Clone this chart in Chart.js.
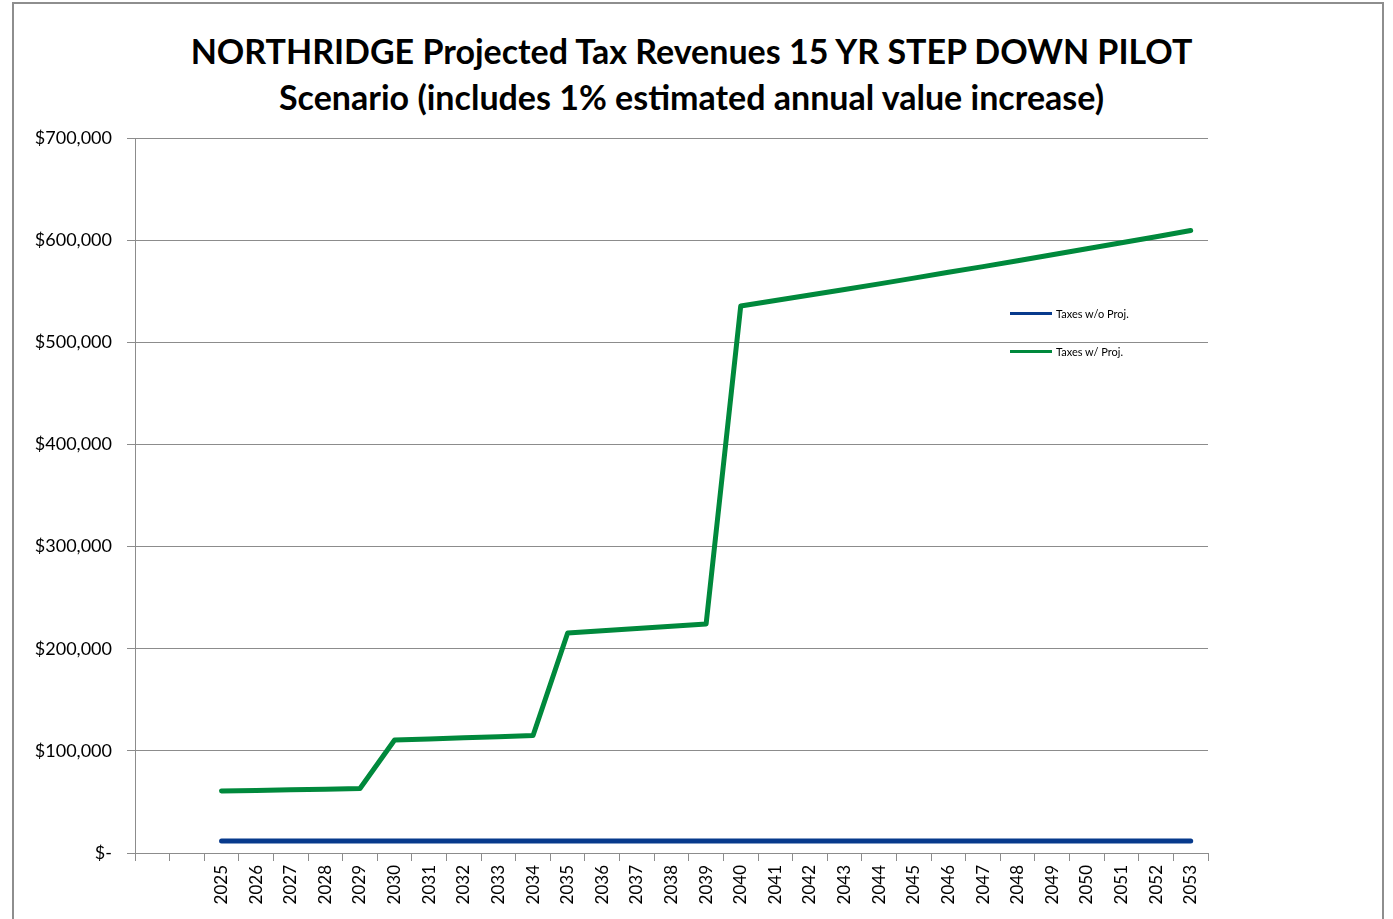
<!DOCTYPE html>
<html>
<head>
<meta charset="utf-8">
<script src="https://cdn.jsdelivr.net/npm/chart.js@4.4.1/dist/chart.umd.min.js"></script>
<style>
  html, body { margin: 0; padding: 0; background: #fff; }
  body { width: 1393px; height: 919px; position: relative; overflow: hidden; font-family: Lato, "Open Sans", sans-serif; }
  #frame { position: absolute; left: 12px; top: 2px; width: 1372px; height: 940px; border: 2px solid #8e8e8e; box-sizing: border-box; }
  #title { position: absolute; left: 0; width: 1383px; top: 28px; text-align: center; font-weight: bold; font-size: 34px; line-height: 46px; color: #000; }
  #wrap { position: absolute; left: 0; top: 0; width: 1393px; height: 919px; }
  .leg { position: absolute; left: 1010px; font-size: 11px; color: #000; display: flex; align-items: center; }
  .leg span.sw { display: inline-block; width: 42px; height: 3px; margin-right: 4px; }
</style>
</head>
<body>
<div id="frame"></div>
<div id="title">NORTHRIDGE Projected Tax Revenues 15 YR STEP DOWN PILOT<br>Scenario (includes 1% estimated annual value increase)</div>
<div id="wrap"><canvas id="chart" width="1393" height="919"></canvas></div>
<div class="leg" style="top:307px"><span class="sw" style="background:#073a8c"></span>Taxes w/o Proj.</div>
<div class="leg" style="top:345px"><span class="sw" style="background:#00893c"></span>Taxes w/ Proj.</div>
<script>
// Data (two empty leading categories, as in the spreadsheet)
const years = ['', '', '2025', '2026', '2027', '2028', '2029', '2030', '2031', '2032', '2033', '2034',
  '2035', '2036', '2037', '2038', '2039', '2040', '2041', '2042', '2043', '2044', '2045', '2046',
  '2047', '2048', '2049', '2050', '2051', '2052', '2053'];
const taxesWithoutProj = [null, null, 11700, 11700, 11700, 11700, 11700, 11700, 11700, 11700, 11700, 11700,
  11700, 11700, 11700, 11700, 11700, 11700, 11700, 11700, 11700, 11700, 11700, 11700,
  11700, 11700, 11700, 11700, 11700, 11700, 11700];
const taxesWithProj = [null, null, 60700, 61300, 61900, 62500, 63200, 110600, 111700, 112800, 113900, 115100,
  215400, 217600, 219700, 221900, 224100, 535500, 540900, 546300, 551700, 557200, 562800, 568500,
  574100, 579900, 585700, 591500, 597500, 603400, 609500];
const yTicks = [0, 100000, 200000, 300000, 400000, 500000, 600000, 700000];

const gridColor = '#8c8c8c';

function money(v) {
  if (v === 0) return '$-';
  return '$' + v.toLocaleString('en-US');
}

const ctx = document.getElementById('chart').getContext('2d');
new Chart(ctx, {
  type: 'line',
  data: {
    labels: years,
    datasets: [
      {
        label: 'Taxes w/o Proj.',
        data: taxesWithoutProj,
        borderColor: '#073a8c',
        borderWidth: 5,
        pointRadius: 0,
        tension: 0,
        borderCapStyle: 'round',
        borderJoinStyle: 'round'
      },
      {
        label: 'Taxes w/ Proj.',
        data: taxesWithProj,
        borderColor: '#00893c',
        borderWidth: 5,
        pointRadius: 0,
        tension: 0,
        borderCapStyle: 'round',
        borderJoinStyle: 'round'
      }
    ]
  },
  options: {
    responsive: false,
    animation: false,
    layout: { padding: { left: 0, top: 138, right: 185, bottom: 0 } },
    plugins: {
      legend: { display: false },
      title: { display: false },
      tooltip: { enabled: false }
    },
    scales: {
      x: {
        offset: true,
        grid: { offset: true, drawOnChartArea: false, drawTicks: true, tickLength: 8, color: gridColor },
        border: { color: gridColor, width: 1 },
        ticks: {
          autoSkip: false, maxRotation: 90, minRotation: 90,
          color: '#000', padding: 4,
          font: { family: 'Lato', size: 17 }
        },
        afterFit: s => { s.height = 66; }
      },
      y: {
        min: 0,
        max: 700000,
        afterBuildTicks: s => { s.ticks = yTicks.map(v => ({ value: v })); },
        grid: { color: gridColor, tickLength: 8, drawTicks: true },
        border: { color: gridColor, width: 1 },
        ticks: {
          color: '#000', padding: 15,
          font: { family: 'Lato', size: 18 },
          callback: v => money(v)
        },
        afterFit: s => { s.width = 135; }
      }
    }
  }
});
</script>
</body>
</html>
